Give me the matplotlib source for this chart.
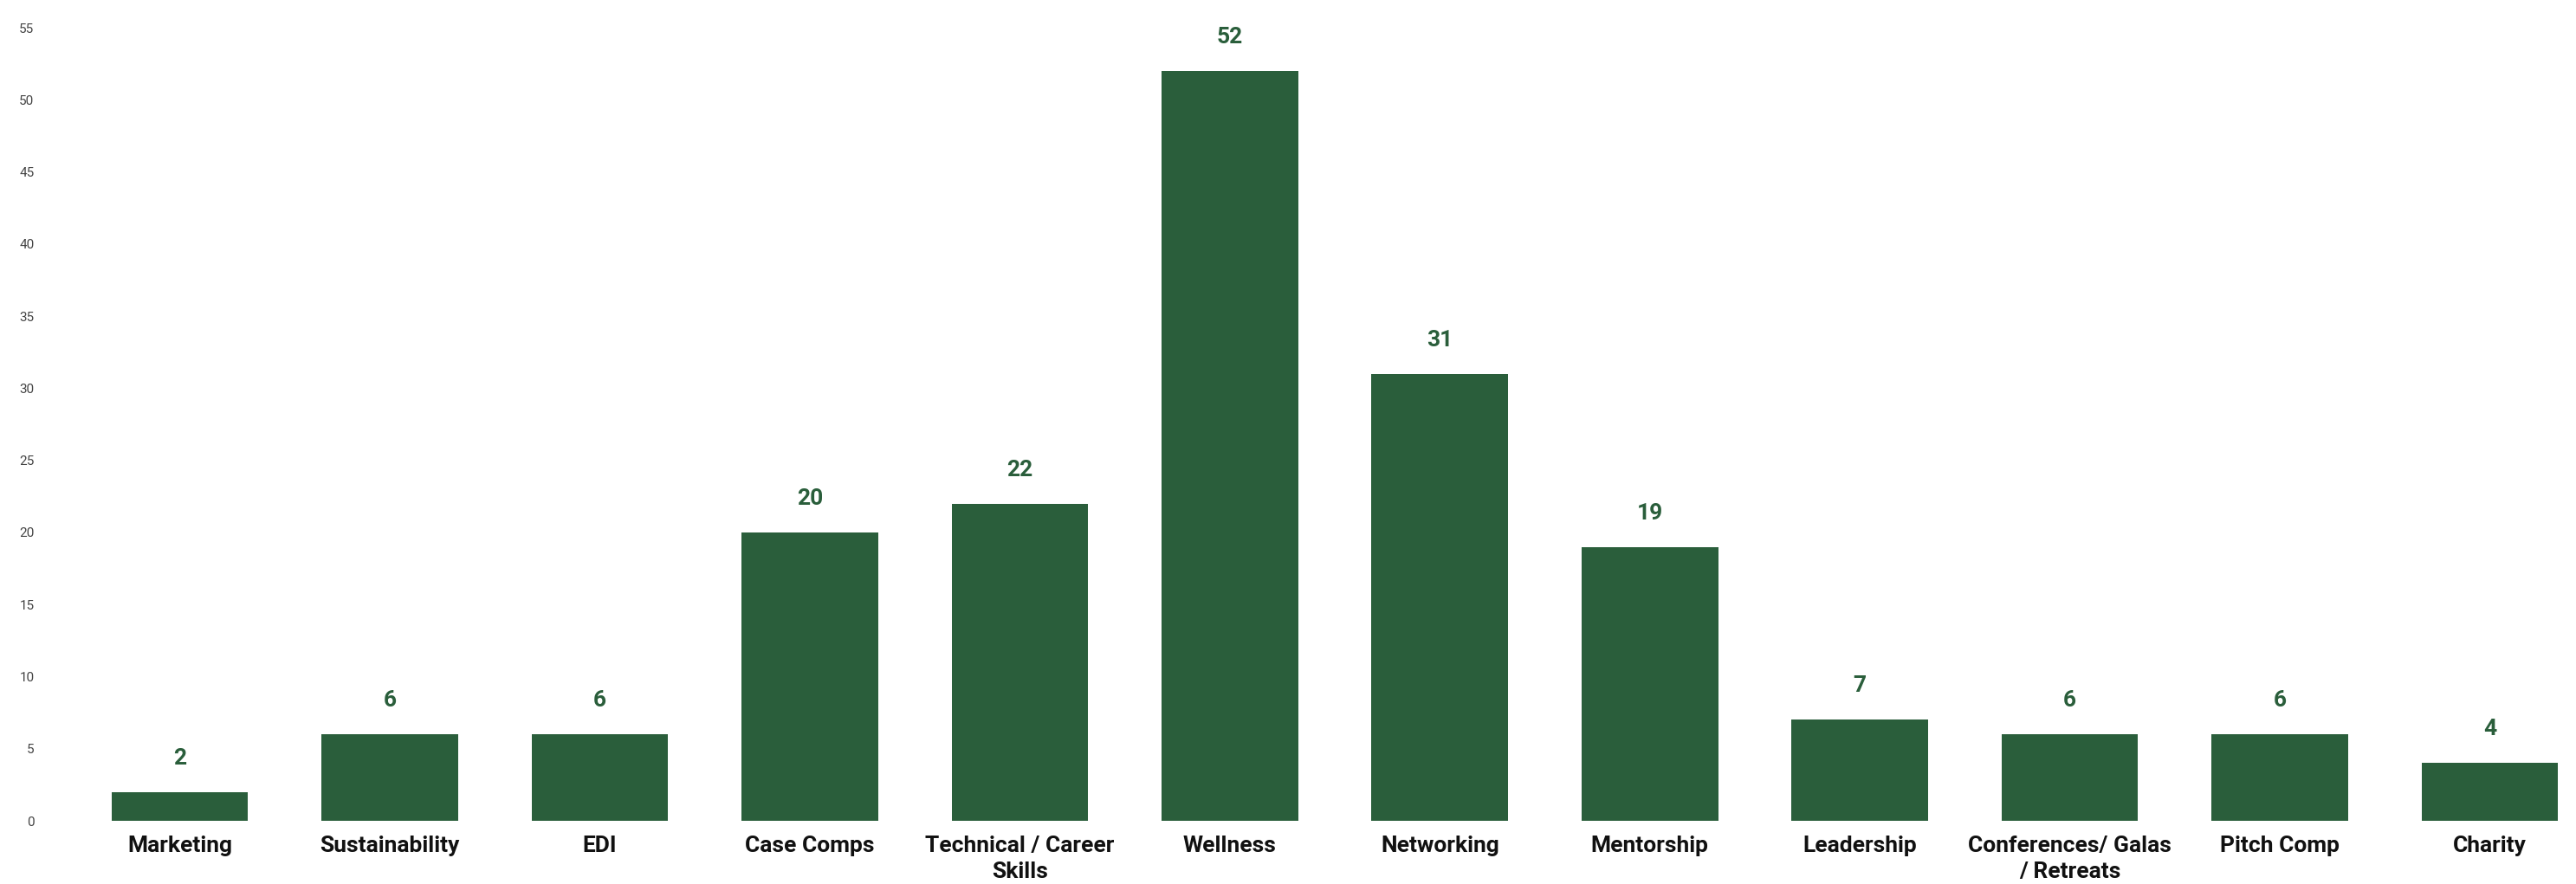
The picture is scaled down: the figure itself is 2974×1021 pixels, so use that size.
import matplotlib
matplotlib.use("Agg")
import matplotlib.pyplot as plt
import numpy as np

categories = [
    "Marketing",
    "Sustainability",
    "EDI",
    "Case Comps",
    "Technical / Career\nSkills",
    "Wellness",
    "Networking",
    "Mentorship",
    "Leadership",
    "Conferences/ Galas\n/ Retreats",
    "Pitch Comp",
    "Charity",
]
counts = [2, 6, 6, 20, 22, 52, 31, 19, 7, 6, 6, 4]
y_ticks = list(range(0, 60, 5))

bar_color = "#2a5e3b"
label_color = "#2a5e3b"

plt.rcParams["font.family"] = ["Roboto", "DejaVu Sans"]

fig = plt.figure(figsize=(29.74, 10.21), dpi=100)
ax = fig.add_axes([45 / 2974, 73 / 1021, 1 - 45 / 2974, (948 - 32) / 1021])

x = np.arange(len(categories))
bars = ax.bar(x, counts, width=0.65, color=bar_color)

for xi, v in zip(x, counts):
    ax.annotate(
        str(v),
        (xi, v),
        xytext=(0, 23),
        textcoords="offset points",
        ha="center",
        va="baseline",
        fontsize=19,
        fontweight="bold",
        color=label_color,
    )

ax.set_xlim(-0.67, 11.41)
ax.set_ylim(0, 55)
ax.set_yticks(y_ticks)
ax.set_xticks(x)
ax.set_xticklabels(categories, fontsize=19, fontweight="bold", color="#111111",
                   linespacing=1.35)
ax.tick_params(axis="x", length=0, pad=12)
ax.tick_params(axis="y", length=0, pad=4, labelsize=11, labelcolor="#444444")
for s in ax.spines.values():
    s.set_visible(False)

plt.savefig("out.png", dpi=100)
